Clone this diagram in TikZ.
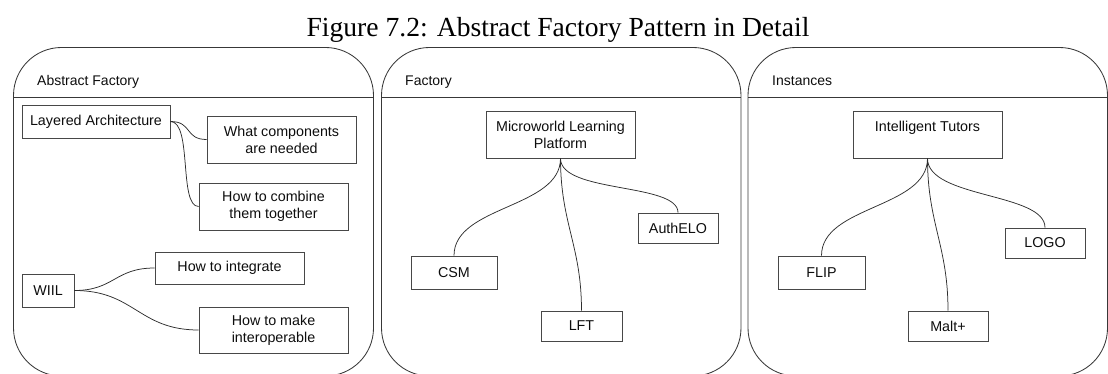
\documentclass[tikz,border=0pt]{standalone}
\usepackage{fontspec}
\setmainfont{Liberation Sans}
\newfontfamily\titlefont{Liberation Serif}
\begin{document}
\begin{tikzpicture}[x=1pt,y=-1pt,
  panel/.style={draw=black!78, line width=0.85pt, rounded corners=48pt},
  divider/.style={draw=black!78, line width=0.85pt},
  box/.style={draw=black!72, line width=0.85pt, inner sep=0pt, align=center,
    font=\fontsize{14.3}{17}\selectfont, text=black!95},
  heading/.style={anchor=base west, inner sep=0pt,
    font=\fontsize{14}{17}\selectfont, text=black!95},
  link/.style={draw=black!82, line width=0.75pt}]
\useasboundingbox (0,0) rectangle (1108,374);
\clip (0,0) rectangle (1108,374);

% caption
\node[anchor=base, inner sep=0pt, font=\fontsize{27.6}{30}\titlefont] (title) at (558,37)
  {Figure 7.2: Abstract Factory Pattern in Detail};

% three swimlane panels
\draw[panel] (13.5,47.5) rectangle (373.5,376);
\draw[divider] (13.5,97) -- (373.5,97);
\draw[panel] (381.5,47.5) rectangle (741,376);
\draw[divider] (381.5,97) -- (741,97);
\draw[panel] (748,47.5) rectangle (1107.5,376);
\draw[divider] (748,97) -- (1107.5,97);

\node[heading] (h1) at (37,86) {Abstract Factory};
\node[heading] (h2) at (405,86) {Factory};
\node[heading] (h3) at (772,86) {Instances};

% abstract factory
\node[box, minimum width=148, minimum height=33] (la) at (96,121.5) {Layered Architecture};
\node[box, minimum width=149, minimum height=47] (wc) at (281.5,139.5) {What components\\are needed};
\node[box, minimum width=149, minimum height=47] (hc) at (273.5,206.5) {How to combine\\them together};
\node[box, minimum width=149, minimum height=32] (hi) at (229.5,268) {How to integrate};
\node[box, minimum width=52, minimum height=33] (wi) at (48,290.5) {WIIL};
\node[box, minimum width=149, minimum height=46] (hm) at (273.5,330) {How to make\\interoperable};

\draw[link] (la.east) .. controls +(22,0) and +(-22,0) .. (wc.west);
\draw[link] (la.east) .. controls +(22,0) and +(-20,0) .. (hc.west);
\draw[link] (wi.east) .. controls +(40,0) and +(-40,0) .. (hi.west);
\draw[link] (wi.east) .. controls +(60,0) and +(-60,0) .. (hm.west);

% factory
\node[box, minimum width=149, minimum height=47] (mw) at (560.5,134.5) {Microworld Learning\\Platform};
\node[box, minimum width=80, minimum height=30] (ae) at (678,228) {AuthELO};
\node[box, minimum width=86, minimum height=33] (csm) at (454,272.5) {CSM};
\node[box, minimum width=81, minimum height=30] (lft) at (581.5,326) {LFT};

\draw[link] (mw.south) .. controls +(0,50) and +(0,-50) .. (csm.north);
\draw[link] (mw.south) .. controls +(0,35) and +(0,-30) .. (ae.north);
\draw[link] (mw.south) .. controls +(0,65) and +(0,-65) .. (lft.north);

% instances
\node[box, minimum width=149, minimum height=47] (it) at (927.5,134.5) {Intelligent Tutors\\\mbox{}};
\node[box, minimum width=80, minimum height=30] (logo) at (1045,243) {LOGO};
\node[box, minimum width=87, minimum height=33] (flip) at (821.5,272.5) {FLIP};
\node[box, minimum width=80, minimum height=30] (malt) at (948,326) {Malt+};

\draw[link] (it.south) .. controls +(0,50) and +(0,-50) .. (flip.north);
\draw[link] (it.south) .. controls +(0,40) and +(0,-35) .. (logo.north);
\draw[link] (it.south) .. controls +(0,65) and +(0,-65) .. (malt.north);
\end{tikzpicture}
\end{document}
